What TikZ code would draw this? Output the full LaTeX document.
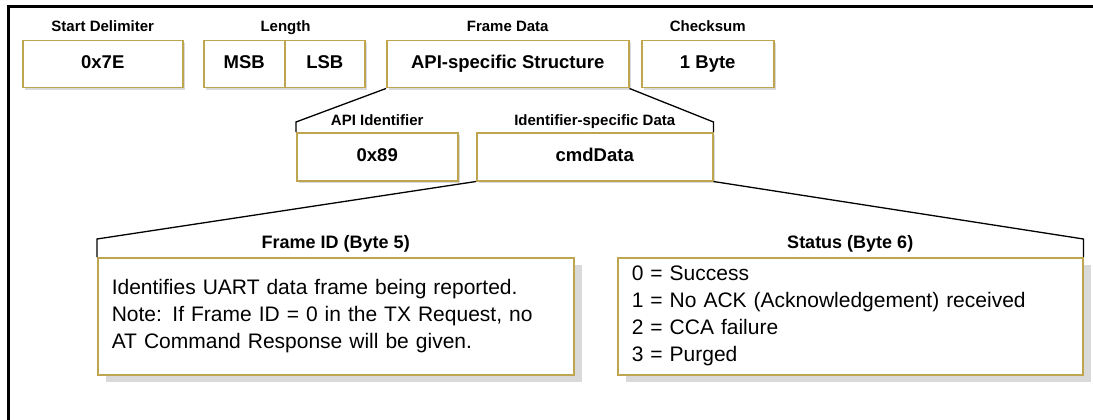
\documentclass[tikz,border=0pt]{standalone}
\usepackage{fontspec}
\setmainfont{Liberation Sans}
\usetikzlibrary{shadows}
\definecolor{boxgold}{RGB}{190,165,80}
\tikzset{
  field/.style={draw=boxgold, line width=1.5pt, fill=white, anchor=north west, inner sep=0pt,
    font=\fontsize{18.5}{22}\selectfont\bfseries, text height=1em, text depth=0.08em,
    drop shadow={shadow xshift=2.5pt, shadow yshift=-2.5pt, fill=black!15, opacity=1}},
  note/.style={draw=boxgold, line width=1.5pt, fill=white, anchor=north west, inner xsep=14pt, inner ysep=0pt,
    align=left, font=\fontsize{21}{27}\selectfont,
    drop shadow={shadow xshift=8pt, shadow yshift=-7pt, fill=black!15, opacity=1}},
  lbl/.style={anchor=base, inner sep=0pt, font=\fontsize{15}{18}\selectfont\bfseries},
  blbl/.style={lbl, font=\fontsize{18}{21}\selectfont\bfseries},
  link/.style={line width=1.3pt}
}
\begin{document}
\begin{tikzpicture}[x=1pt,y=-1pt]
\useasboundingbox (0,0) rectangle (1093,420);
\draw[line width=3pt] (8,420) -- (8,7) -- (1093,7);

\node[field, minimum width=160pt, minimum height=47pt] (start) at (22,40) {0x7E};
\node[field, minimum width=81pt, minimum height=47pt] (msb) at (203,40) {MSB};
\node[field, minimum width=80pt, minimum height=47pt] (lsb) at (284,40) {LSB};
\node[field, minimum width=242pt, minimum height=47pt] (api) at (386,40) {API-specific Structure};
\node[field, minimum width=132pt, minimum height=47pt] (chk) at (641,40) {1 Byte};

\node[lbl] (sdlbl) at ([yshift=8pt]start.north) {Start Delimiter};
\node[lbl] (lenlbl) at ([yshift=8pt]msb.north east) {Length};
\node[lbl] (fdlbl) at ([yshift=8pt]api.north) {Frame Data};
\node[lbl] (cslbl) at ([yshift=8pt]chk.north) {Checksum};

\node[field, minimum width=161pt, minimum height=48pt] (apiid) at (296,132) {0x89};
\node[field, minimum width=236pt, minimum height=48pt] (cmd) at (476,132) {cmdData};

\node[lbl] (idlbl) at ([yshift=7pt]apiid.north) {API Identifier};
\node[lbl] (isdlbl) at ([yshift=7pt]cmd.north) {Identifier-specific Data};

\draw[link] (api.south west) -- ([yshift=10pt]apiid.north west) -- (apiid.north west);
\draw[link] (api.south east) -- ([yshift=10pt]cmd.north east) -- (cmd.north east);

\node[note, text width=448pt, minimum width=476pt, minimum height=117pt] (fid) at (97,257)
  {Identifies UART data frame being reported.\\
   Note: If Frame ID = 0 in the TX Request, no\\
   AT Command Response will be given.};
\node[note, text width=437pt, minimum width=465pt, minimum height=117pt] (stat) at (617,257)
  {0 = Success\\
   1 = No ACK (Acknowledgement) received\\
   2 = CCA failure\\
   3 = Purged};

\node[blbl] (fidlbl) at ([yshift=9pt]fid.north) {Frame ID (Byte 5)};
\node[blbl] (statlbl) at ([yshift=9pt]stat.north) {Status (Byte 6)};

\draw[link] (cmd.south west) -- ([yshift=18pt]fid.north west) -- (fid.north west);
\draw[link] (cmd.south east) -- ([yshift=18pt]stat.north east) -- (stat.north east);
\end{tikzpicture}
\end{document}
